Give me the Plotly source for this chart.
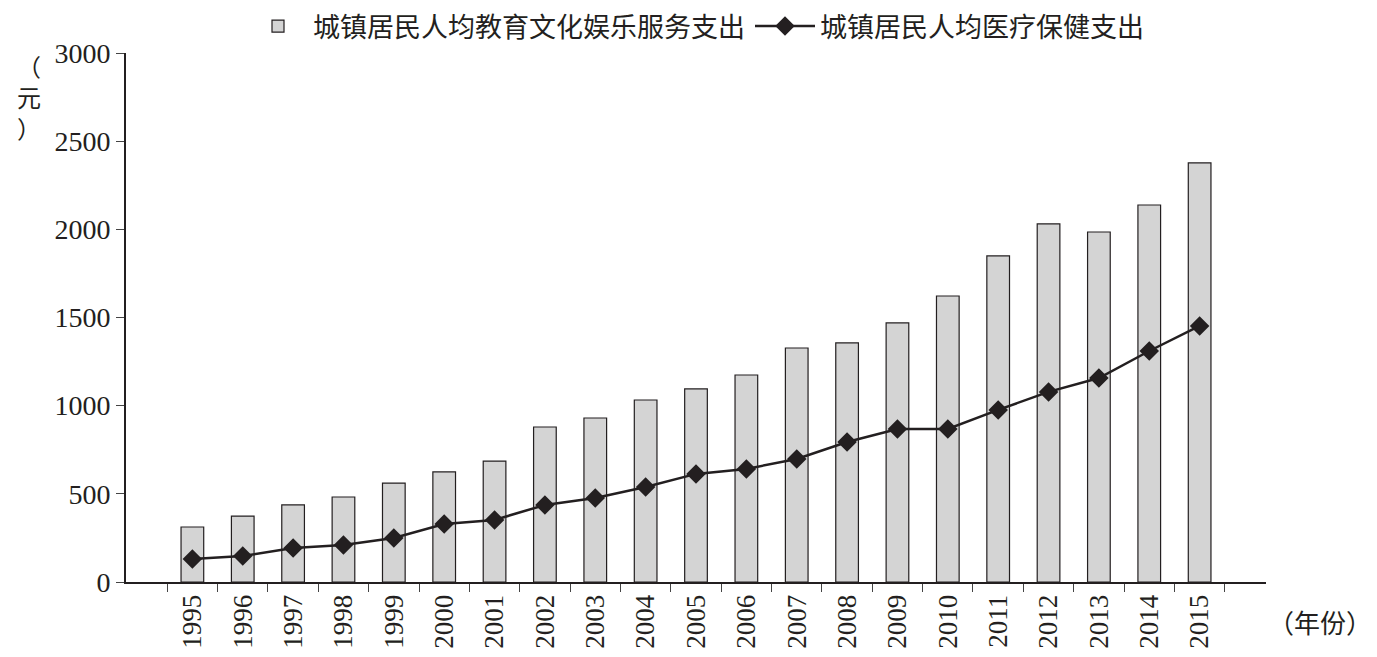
import plotly.graph_objects as go

years = [str(y) for y in range(1995, 2016)]
edu = [312, 374, 437, 482, 561, 624, 686, 879, 930, 1032, 1095, 1174, 1327, 1356,
       1469, 1622, 1849, 2031, 1985, 2138, 2377]
med = [130, 147, 193, 210, 250, 329, 352, 437, 476, 539, 613, 641, 698, 794,
       868, 868, 976, 1078, 1157, 1310, 1452]

font = "Liberation Serif, Noto Sans CJK SC"

fig = go.Figure()
fig.add_bar(x=years, y=edu, name="城镇居民人均教育文化娱乐服务支出", width=0.45,
            marker=dict(color="#d4d4d4", line=dict(color="#231f20", width=1.2)))
fig.add_scatter(x=years, y=med, name="城镇居民人均医疗保健支出", mode="lines+markers",
                line=dict(color="#231f20", width=2.5),
                marker=dict(symbol="diamond", size=15, color="#231f20"))

fig.update_layout(
    width=1377, height=657, plot_bgcolor="white", paper_bgcolor="white",
    margin=dict(l=118, r=119, t=45, b=83, autoexpand=False),
    font=dict(family=font, size=28, color="#231f20"),
    legend=dict(orientation="h", x=0.5, xanchor="center", y=1.05, yanchor="middle",
                font=dict(size=27), itemwidth=60),
    showlegend=True,
)
fig.update_xaxes(tickangle=-90, showline=True, linecolor="#231f20", linewidth=2,
                 ticks="outside", ticklen=8, tickson="boundaries",
                 tickfont=dict(size=27))
fig.update_yaxes(range=[0, 3000], dtick=500, showline=True, linecolor="#231f20",
                 linewidth=2, ticks="outside", ticklen=8, showgrid=False,
                 tickfont=dict(size=28))
fig.add_annotation(text="（<br>元<br>）", xref="paper", yref="paper", x=-0.085, y=1.0,
                   showarrow=False, xanchor="center", yanchor="top", font=dict(size=24))
fig.add_annotation(text="（年份）", xref="paper", yref="paper", x=1.0, y=-0.08,
                   showarrow=False, xanchor="left", yanchor="middle", font=dict(size=26))

fig.write_html("out.html")
